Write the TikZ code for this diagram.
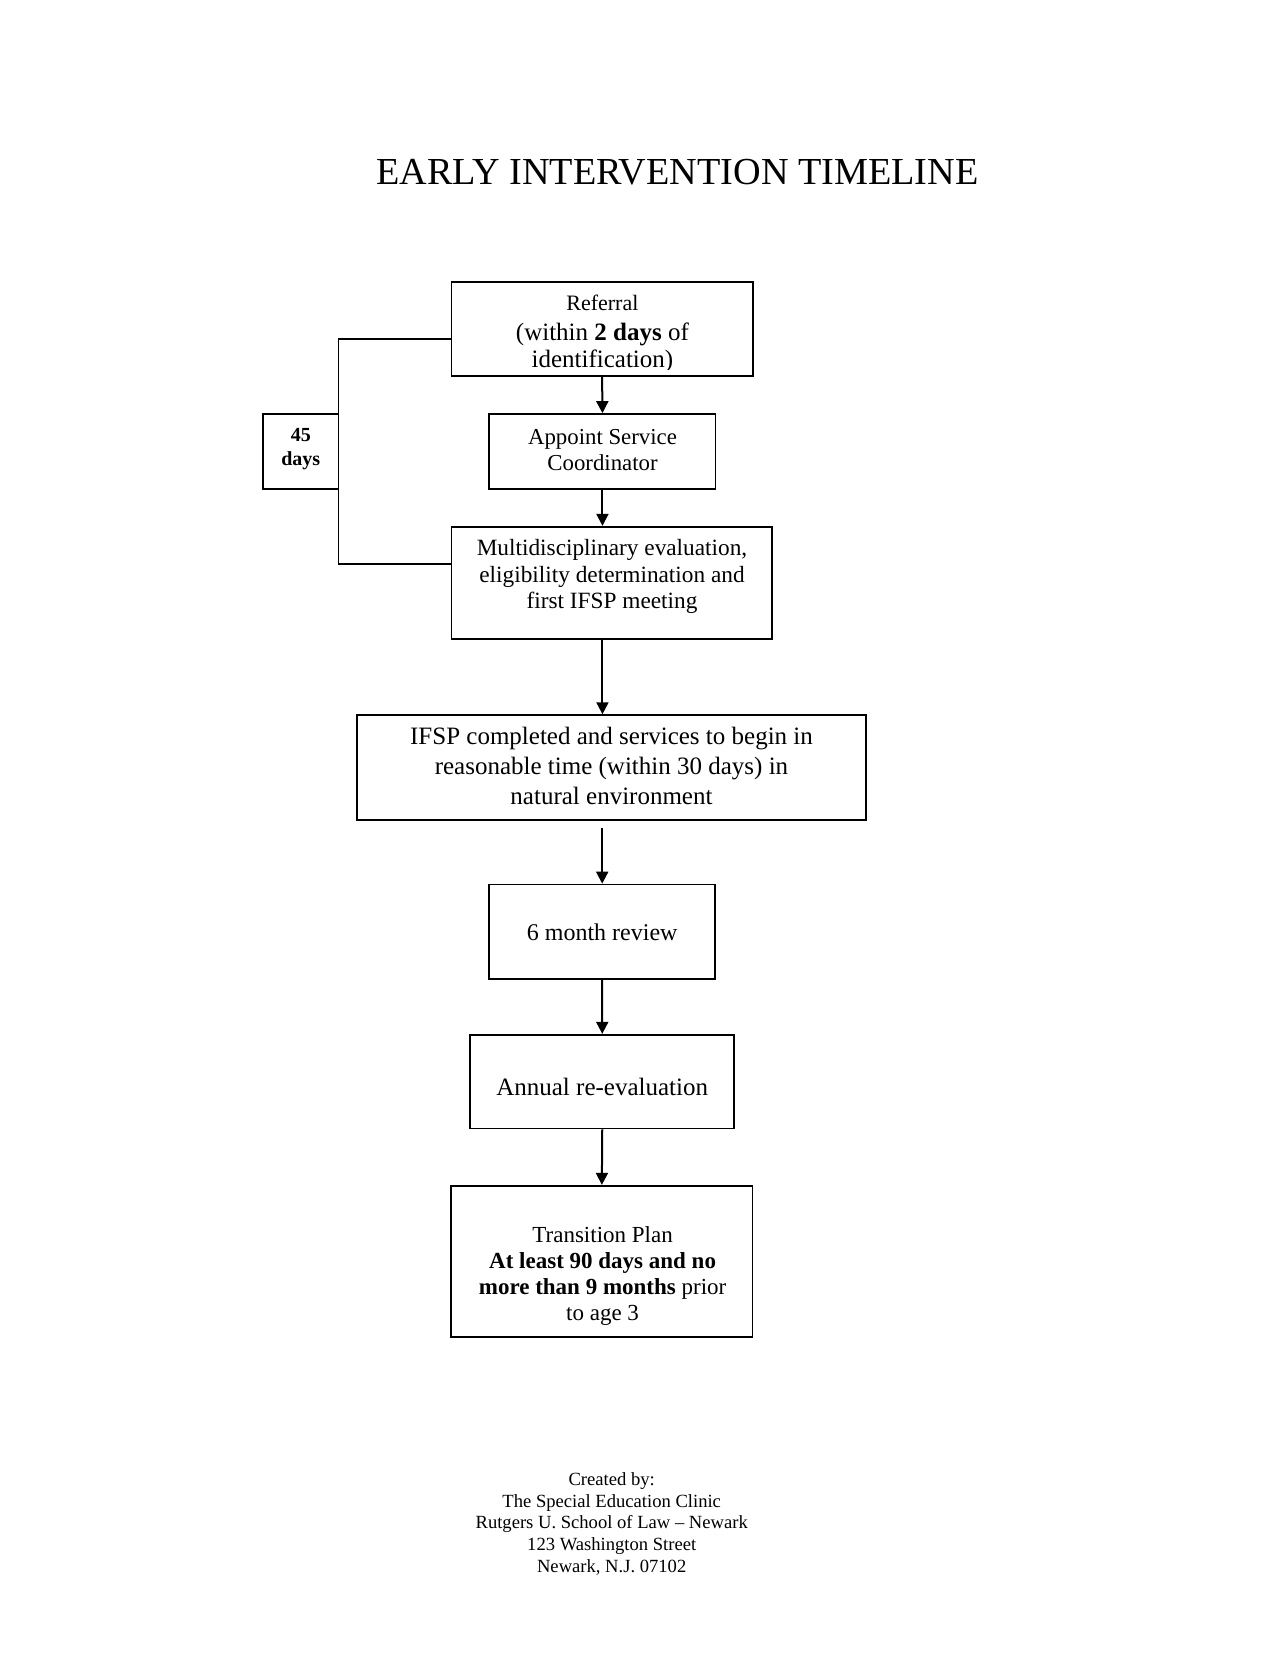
\documentclass[tikz,border=0pt]{standalone}
\usepackage{fontspec}
\setmainfont{Liberation Serif}
\usetikzlibrary{arrows.meta}
\newcommand\myfs[2]{\fontsize{#1pt}{#2pt}\selectfont}
\begin{document}
\begin{tikzpicture}[x=1pt,y=-1pt,
  box/.style={draw=black,line width=1.7pt,inner sep=0pt,fill=none},
  txt/.style={inner sep=0pt,align=center,text=black},
  flow/.style={draw=black,line width=2pt,-{Triangle[length=12pt,width=12pt]}},
  bracket/.style={draw=black,line width=1.7pt}]
\useasboundingbox[fill=white] (0,0) rectangle (1280,1656);

% title
\node[txt,anchor=base,font=\myfs{38.2}{40}] (title) at (677.5,185) {EARLY INTERVENTION TIMELINE};

% boxes
\node[box,minimum width=301.4pt,minimum height=93.7pt] (ref) at (602.1,329.15) {};
\node[box,minimum width=226.3pt,minimum height=75pt] (app) at (602.45,451.5) {};
\node[box,minimum width=75.4pt,minimum height=75pt] (days) at (300.8,451.5) {};
\node[box,minimum width=320.3pt,minimum height=112.6pt] (multi) at (611.55,583) {};
\node[box,minimum width=508.6pt,minimum height=104.9pt] (ifsp) at (611.5,767.55) {};
\node[box,minimum width=226.2pt,minimum height=94.3pt] (six) at (602.2,931.65) {};
\node[box,minimum width=264.1pt,minimum height=93.9pt] (annual) at (602.25,1081.65) {};
\node[box,minimum width=301.3pt,minimum height=151pt] (trans) at (601.85,1261.2) {};

% texts (anchor=base is the baseline of the last line)
\node[txt,anchor=base,font=\myfs{22}{26}] (reft1) at (602.4,310.7) {Referral};
\begin{scope}
  \clip (452,283) rectangle (752,369);
  \node[txt,anchor=base,font=\myfs{25}{27.3}] (reft2) at (602.4,367.3) {(within \textbf{2 days} of\\identification)};
\end{scope}
\node[txt,anchor=base,font=\myfs{22.8}{26.7}] (appt) at (602.5,470.7) {Appoint Service\\Coordinator};
\node[txt,anchor=base,font=\myfs{20}{23.3}\bfseries] (dayst) at (300.8,465) {45\\days};
\node[txt,anchor=base,font=\myfs{23.3}{26.2}] (multit) at (612,608.3) {Multidisciplinary evaluation,\\eligibility determination and\\first IFSP meeting};
\node[txt,anchor=base,font=\myfs{25}{29.6}] (ifspt) at (611.5,804.1) {IFSP completed and services to begin in\\reasonable time (within 30 days) in\\natural environment};
\node[txt,anchor=base,font=\myfs{24}{28}] (sixt) at (602.2,940) {6 month review};
\node[txt,anchor=base,font=\myfs{25}{28}] (annualt) at (602.2,1095.9) {Annual re-evaluation};
\node[txt,anchor=base,font=\myfs{23}{26}] (transt) at (602.6,1320) {Transition Plan\\\textbf{At least 90 days and no}\\\textbf{more than 9 months} prior\\to age 3};

% footer
\node[txt,anchor=base,font=\myfs{18.6}{21.6}] (footer) at (611.7,1572) {Created by:\\The Special Education Clinic\\Rutgers U. School of Law -- Newark\\123 Washington Street\\Newark, N.J. 07102};

% bracket
\coordinate (bt) at (338.5,338.7);
\coordinate (bb) at (338.5,564);
\draw[bracket] (bt -| ref.west) -- (bt) -- (bb) -- (bb -| multi.west);

% arrows
\draw[flow] (ref.south) -- (app.north);
\draw[flow] (app.south) -- (app.south |- multi.north);
\draw[flow] (multi.south -| app.south) -- (ifsp.north -| app.south);
\draw[flow,shorten <=7pt] (ifsp.south -| six.north) -- (six.north);
\draw[flow] (six.south) -- (annual.north);
\draw[flow] (annual.south) -- (trans.north);
\end{tikzpicture}
\end{document}
